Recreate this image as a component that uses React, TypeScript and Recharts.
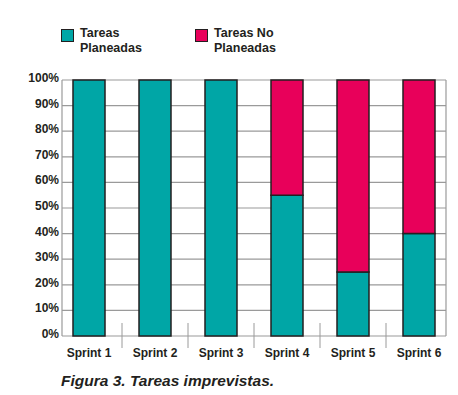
import React from 'react';
import { BarChart, Bar, XAxis, YAxis, CartesianGrid } from 'recharts';

const sprints = ['Sprint 1', 'Sprint 2', 'Sprint 3', 'Sprint 4', 'Sprint 5', 'Sprint 6'];
const planeadas = [100, 100, 100, 55, 25, 40];
const noPlaneadas = [0, 0, 0, 45, 75, 60];
const yTicks = [0, 10, 20, 30, 40, 50, 60, 70, 80, 90, 100];

const series = [
  { key: 'planeadas', label: ['Tareas', 'Planeadas'], color: '#00a6a6' },
  { key: 'noPlaneadas', label: ['Tareas No', 'Planeadas'], color: '#e8005a' },
];

const data = sprints.map((name, i) => ({
  name,
  planeadas: planeadas[i],
  noPlaneadas: noPlaneadas[i],
}));

const FONT = '"Liberation Sans", Arial, Helvetica, sans-serif';
const INK = '#231f20';
const GRID = '#9a9a9a';

const XTick = (props: any) => {
  const { x, y, payload, index } = props;
  const half = payload && payload.offset ? payload.offset : 33;
  return (
    <g>
      <text x={x} y={y + 21} textAnchor="middle" fontFamily={FONT} fontSize={12} fontWeight={700} fill={INK}>
        {payload.value}
      </text>
      {index < sprints.length - 1 && (
        <line x1={x + half} x2={x + half} y1={y - 13} y2={y + 12} stroke={GRID} strokeWidth={1} />
      )}
    </g>
  );
};

const YTick = (props: any) => {
  const { x, y, payload } = props;
  return (
    <text x={x + 3} y={y + 2} textAnchor="end" fontFamily={FONT} fontSize={12} fontWeight={700} fill={INK}>
      {payload.value}%
    </text>
  );
};

// plot box is a bit narrower than the category range
const gridLine = (props: any) => {
  const { x1, x2, y1, y2, key } = props;
  if (y1 === y2) {
    return <line key={key} x1={x1 + 6} x2={x2 - 6} y1={y1} y2={y2} stroke={GRID} strokeWidth={1.2} />;
  }
  return <line key={key} x1={x1} x2={x2} y1={y1} y2={y2} stroke={GRID} strokeWidth={1.2} />;
};

const App: React.FC = () => {
  return (
    <div style={{ position: 'absolute', left: 0, top: 0, width: 458, height: 395, background: '#fff', fontFamily: FONT }}>
      {series.map((s, i) => (
        <div key={s.key} style={{ position: 'absolute', left: 61 + i * 134, top: 29, display: 'flex' }}>
          <div style={{ width: 11, height: 11, background: s.color, border: `1.5px solid ${INK}` }} />
          <div style={{ marginLeft: 6, marginTop: -3, fontSize: 12.5, fontWeight: 700, lineHeight: '15px', color: INK }}>
            {s.label[0]}
            <br />
            {s.label[1]}
          </div>
        </div>
      ))}
      <BarChart
        width={458}
        height={395}
        data={data}
        margin={{ top: 80, right: 6, bottom: 29, left: 0 }}
        barSize={32}
      >
        <CartesianGrid
          horizontal={gridLine}
          vertical={gridLine}
          verticalCoordinatesGenerator={({ offset }: any) => [offset.left + 6, offset.left + offset.width - 6]}
        />
        <XAxis
          dataKey="name"
          height={30}
          axisLine={false}
          tickLine={false}
          tickSize={0}
          tickMargin={0}
          interval={0}
          tick={<XTick />}
        />
        <YAxis
          width={56}
          domain={[0, 100]}
          ticks={yTicks}
          axisLine={false}
          tickLine={false}
          tickSize={0}
          tickMargin={0}
          interval={0}
          tick={<YTick />}
        />
        {series.map((s) => (
          <Bar
            key={s.key}
            dataKey={s.key}
            stackId="a"
            fill={s.color}
            stroke={INK}
            strokeWidth={1.5}
            isAnimationActive={false}
          />
        ))}
      </BarChart>
      <div
        style={{
          position: 'absolute',
          left: 61,
          top: 372,
          fontSize: 15.5,
          fontWeight: 700,
          fontStyle: 'italic',
          lineHeight: '18px',
          color: INK,
          whiteSpace: 'nowrap',
        }}
      >
        Figura 3. Tareas imprevistas.
      </div>
    </div>
  );
};

export default App;
